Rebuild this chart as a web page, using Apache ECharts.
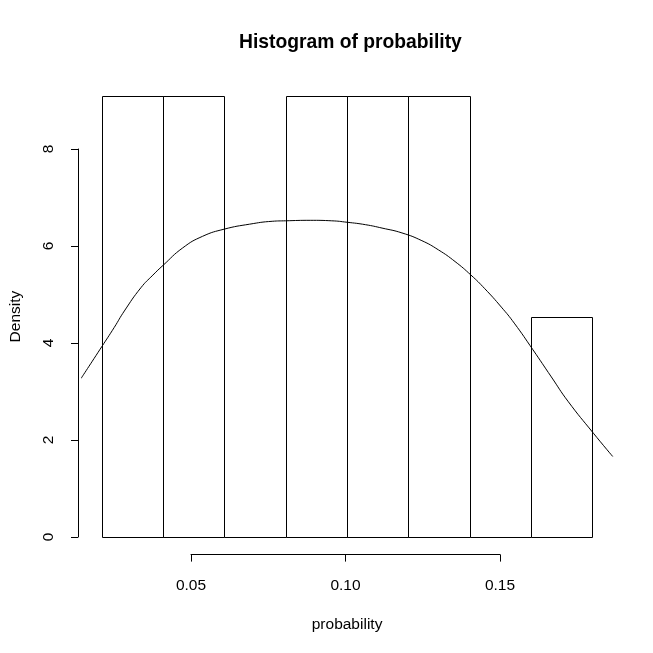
<!DOCTYPE html>
<html>
<head>
<meta charset="utf-8">
<script src="https://cdn.jsdelivr.net/npm/echarts@6/dist/echarts.min.js"></script>
<style>html,body{margin:0;padding:0;background:#fff}#c{width:653px;height:653px}</style>
</head>
<body>
<div id="c"></div>
<script>
// Histogram breaks and densities
var binStarts = [0.02, 0.04, 0.06, 0.08, 0.10, 0.12, 0.14, 0.16];
var binEnds   = [0.04, 0.06, 0.08, 0.10, 0.12, 0.14, 0.16, 0.18];
var densities = [9.0909, 9.0909, 0, 9.0909, 9.0909, 9.0909, 0, 4.5455];
// Kernel density curve
var densX = [0.0133, 0.0200, 0.0241, 0.0274, 0.0328, 0.0367, 0.0400, 0.0464, 0.0529, 0.0601, 0.0682, 0.0756, 0.0800, 0.0880, 0.0950, 0.1000, 0.1060, 0.1114, 0.1179, 0.1244, 0.1298, 0.1352, 0.1404, 0.1449, 0.1503, 0.1545, 0.1606, 0.1666, 0.1720, 0.1803, 0.1866];
var densY = [3.27, 3.92, 4.32, 4.66, 5.14, 5.40, 5.60, 5.96, 6.20, 6.35, 6.45, 6.51, 6.52, 6.53, 6.52, 6.49, 6.44, 6.37, 6.27, 6.11, 5.92, 5.68, 5.40, 5.12, 4.74, 4.41, 3.86, 3.30, 2.80, 2.14, 1.66];
// Axis ticks
var xTicks = [0.05, 0.10, 0.15];
var yTicks = [0, 2, 4, 6, 8];

var xMin = 0.0136, xMax = 0.1864, yMin = -0.3636, yMax = 9.4545;

var chart = echarts.init(document.getElementById('c'), null, {renderer: 'canvas'});
var font = 'Liberation Sans, Arial, sans-serif';

var histData = binStarts.map(function (s, i) { return [s, binEnds[i], densities[i]]; });
var lineData = densX.map(function (x, i) { return [x, densY[i]]; });

function snap(v) { return Math.round(v) + 0.5; }

var option = {
  animation: false,
  backgroundColor: '#fff',
  title: {
    text: 'Histogram of probability',
    left: 234, top: 28,
    textStyle: {fontFamily: font, fontSize: 19.3, fontWeight: 'bold', color: '#000'}
  },
  grid: [
    {left: 78.5, right: 40.9, top: 78.5, bottom: 98.4},
    {left: 191, right: 153, top: 78.5, bottom: 98.4},
    {left: 78, right: 42, top: 149, bottom: 116}
  ],
  xAxis: [
    {gridIndex: 0, type: 'value', min: xMin, max: xMax,
     axisLine: {show: false}, axisTick: {show: false}, axisLabel: {show: false}, splitLine: {show: false},
     name: 'probability', nameLocation: 'middle', nameGap: 62,
     nameTextStyle: {fontFamily: font, fontSize: 15.5, color: '#000'}},
    {gridIndex: 1, type: 'value', min: xTicks[0], max: xTicks[xTicks.length - 1], interval: 0.05,
     axisLine: {show: true, onZero: false, lineStyle: {color: '#000', width: 1}},
     axisTick: {show: true, length: 7, lineStyle: {color: '#000'}},
     axisLabel: {show: true, margin: 23, fontFamily: font, fontSize: 15.5, color: '#000',
       formatter: function (v) { return v.toFixed(2); }},
     splitLine: {show: false}},
    {gridIndex: 2, type: 'value', min: xMin, max: xMax, show: false}
  ],
  yAxis: [
    {gridIndex: 0, type: 'value', min: yMin, max: yMax,
     axisLine: {show: false}, axisTick: {show: false}, axisLabel: {show: false}, splitLine: {show: false},
     name: 'Density', nameLocation: 'middle', nameGap: 58, nameRotate: 90,
     nameTextStyle: {fontFamily: font, fontSize: 15.5, color: '#000'}},
    {gridIndex: 1, type: 'value', min: yMin, max: yMax, show: false},
    {gridIndex: 2, type: 'value', min: yTicks[0], max: yTicks[yTicks.length - 1], interval: 2,
     axisLine: {show: true, onZero: false, lineStyle: {color: '#000', width: 1}},
     axisTick: {show: true, length: 7, lineStyle: {color: '#000'}},
     axisLabel: {show: true, margin: 21, rotate: 90, fontFamily: font, fontSize: 15.5, color: '#000'},
     splitLine: {show: false}}
  ],
  series: [
    {
      type: 'custom', xAxisIndex: 0, yAxisIndex: 0,
      data: histData,
      renderItem: function (params, api) {
        var p0 = api.coord([api.value(0), api.value(2)]);
        var p1 = api.coord([api.value(1), 0]);
        var x0 = snap(p0[0]), x1 = snap(p1[0]), y0 = snap(p0[1]), y1 = snap(p1[1]);
        if (api.value(2) === 0) {
          return {type: 'line', shape: {x1: x0, y1: y1, x2: x1, y2: y1},
                  style: {stroke: '#000', lineWidth: 1}};
        }
        return {type: 'rect', shape: {x: x0, y: y0, width: x1 - x0, height: y1 - y0},
                style: {fill: 'none', stroke: '#000', lineWidth: 1}};
      }
    },
    {
      type: 'line', xAxisIndex: 0, yAxisIndex: 0,
      data: lineData, smooth: 0.5, showSymbol: false, clip: true,
      lineStyle: {color: '#000', width: 1}
    }
  ]
};
chart.setOption(option);
</script>
</body>
</html>
